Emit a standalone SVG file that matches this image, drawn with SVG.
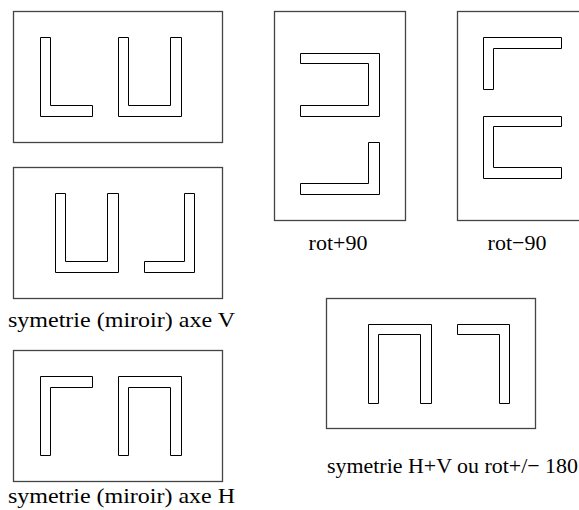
<svg xmlns="http://www.w3.org/2000/svg" width="579" height="510" viewBox="0 0 579 510">
<style>
.frame{fill:none;stroke:#444;stroke-width:1.3}
.shape{fill:none;stroke:#000;stroke-width:1}
.lbl{font-family:"Liberation Serif","Times New Roman",serif;font-size:22px;fill:#000}
</style>
<rect width="579" height="510" fill="#fff"/>
<g id="original">
<rect class="frame" x="13.5" y="11.5" width="209" height="131"/>
<path class="shape" d="M40.5,37.5 H50.5 V105.5 H92.5 V116.5 H40.5 Z"/>
<path class="shape" d="M118.5,37.5 H128.5 V105.5 H170.5 V37.5 H181.5 V116.5 H118.5 Z"/>
</g>
<g id="sym-v">
<rect class="frame" x="13.5" y="167.5" width="209" height="131"/>
<path class="shape" d="M55.5,193.5 H65.5 V261.5 H107.5 V193.5 H118.5 V272.5 H55.5 Z"/>
<path class="shape" d="M144.5,261.5 H184.5 V193.5 H194.5 V272.5 H144.5 Z"/>
<text class="lbl" x="8" y="327" textLength="227" lengthAdjust="spacingAndGlyphs">symetrie (miroir) axe V</text>
</g>
<g id="sym-h">
<rect class="frame" x="13.5" y="350.5" width="209" height="131"/>
<path class="shape" d="M40.5,455.5 V376.5 H92.5 V387.5 H50.5 V455.5 Z"/>
<path class="shape" d="M118.5,455.5 V376.5 H181.5 V455.5 H170.5 V387.5 H128.5 V455.5 Z"/>
<text class="lbl" x="8" y="503" textLength="227" lengthAdjust="spacingAndGlyphs">symetrie (miroir) axe H</text>
</g>
<g id="rot-p90">
<rect class="frame" x="274.5" y="11.5" width="131" height="209"/>
<path class="shape" d="M300.5,53.5 H379.5 V116.5 H300.5 V105.5 H368.5 V63.5 H300.5 Z"/>
<path class="shape" d="M368.5,142.5 H379.5 V194.5 H300.5 V183.5 H368.5 Z"/>
<text class="lbl" x="338" y="250" text-anchor="middle">rot+90</text>
</g>
<g id="rot-m90">
<rect class="frame" x="457.5" y="11.5" width="131" height="209"/>
<path class="shape" d="M483.5,89.5 V37.5 H561.5 V48.5 H493.5 V89.5 Z"/>
<path class="shape" d="M561.5,116.5 H483.5 V178.5 H561.5 V167.5 H493.5 V126.5 H561.5 Z"/>
<text class="lbl" x="517" y="250" text-anchor="middle">rot−90</text>
</g>
<g id="sym-hv">
<rect class="frame" x="326.5" y="298.5" width="209" height="130"/>
<path class="shape" d="M368.5,403.5 V324.5 H431.5 V403.5 H420.5 V334.5 H378.5 V403.5 Z"/>
<path class="shape" d="M457.5,324.5 H509.5 V403.5 H499.5 V334.5 H457.5 Z"/>
<text class="lbl" x="327" y="473" textLength="251" lengthAdjust="spacingAndGlyphs">symetrie H+V ou rot+/− 180</text>
</g>
<g id="connectors"/>
</svg>
